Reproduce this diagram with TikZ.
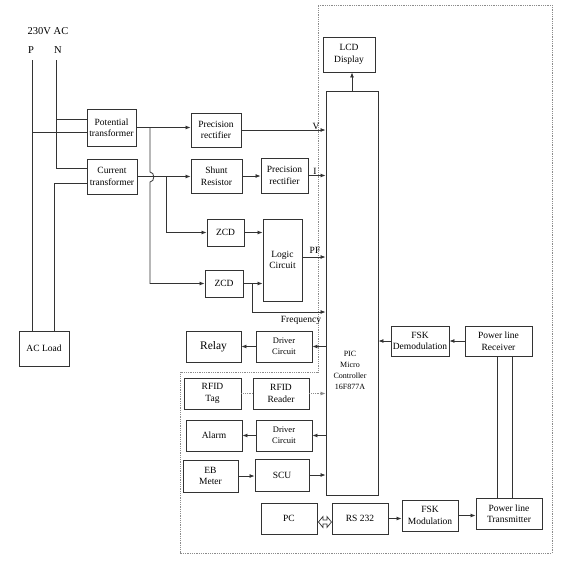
\documentclass[tikz,border=0pt]{standalone}
\usepackage{fontspec}
\setmainfont{Liberation Serif}
\usetikzlibrary{arrows.meta}
\begin{document}
\begin{tikzpicture}[x=1pt,y=-1pt,
  box/.style={draw=black!80, line width=0.9pt, align=center, inner sep=1pt,
    font=\fontsize{9.5}{11.5}\selectfont},
  smallbox/.style={box, font=\fontsize{8.5}{11}\selectfont},
  wire/.style={draw=black!80, line width=0.8pt},
  arr/.style={wire, -{Latex[length=5pt,width=4pt]}},
  dotwire/.style={draw=black!45, line width=0.8pt, densely dotted},
  border/.style={draw=black!45, line width=0.8pt, densely dotted},
  lbl/.style={font=\fontsize{9.5}{11.5}\selectfont, inner sep=0pt}]
\useasboundingbox (0,0) rectangle (580,562);

% boundary
\draw[border] (318,5) -- (552,5) -- (552,553) -- (180,553) -- (180,372) -- (318,372) -- cycle;

% supply labels
\node[lbl, font=\fontsize{10.5}{12}\selectfont] (ac) at (48,31) {230V AC};
\node[lbl, font=\fontsize{10.5}{12}\selectfont] (Plbl) at (31,50) {P};
\node[lbl, font=\fontsize{10.5}{12}\selectfont] (Nlbl) at (58,50) {N};
\coordinate (Ptop) at (32,60);
\coordinate (Ntop) at (56,60);

% boxes
\node[box, minimum width=49, minimum height=37] (PT) at (111.5,127.5) {Potential\\transformer};
\node[box, minimum width=50, minimum height=35] (CT) at (112,176.5) {Current\\transformer};
\node[box, minimum width=50, minimum height=35] (ACL) at (44,348.5) {AC Load};
\node[box, minimum width=50, minimum height=34] (PR1) at (216,130) {Precision\\rectifier};
\node[box, minimum width=51, minimum height=34] (SR) at (216.5,176) {Shunt\\Resistor};
\node[box, minimum width=47, minimum height=35] (PR2) at (284.5,175.5) {Precision\\rectifier};
\node[box, minimum width=37, minimum height=27] (ZCD1) at (225.5,232.5) {ZCD};
\node[box, minimum width=39, minimum height=82] (LC) at (282.5,260) {Logic\\Circuit};
\node[box, minimum width=38, minimum height=27] (ZCD2) at (224,283.5) {ZCD};
\node[box, minimum width=52, minimum height=404] (PIC) at (352,293) {};
\node[lbl, align=center, font=\fontsize{8}{11}\selectfont] (PICtxt) at (350,370) {PIC\\Micro\\Controller\\16F877A};
\node[box, minimum width=52, minimum height=35] (LCD) at (349,54.5) {LCD\\Display};
\node[box, minimum width=55, minimum height=31, font=\fontsize{11.5}{13}\selectfont] (Relay) at (213.5,346.5) {Relay};
\node[smallbox, minimum width=56, minimum height=31] (DC1) at (284,346.5) {Driver\\Circuit};
\node[box, minimum width=57, minimum height=31] (Tag) at (212.5,393.5) {RFID\\Tag};
\node[box, minimum width=56, minimum height=31] (Reader) at (281,393.5) {RFID\\Reader};
\node[box, minimum width=56, minimum height=31] (Alarm) at (214,435.5) {Alarm};
\node[smallbox, minimum width=56, minimum height=31] (DC2) at (284,435.5) {Driver\\Circuit};
\node[box, minimum width=55, minimum height=32] (EB) at (210.5,476) {EB\\Meter};
\node[box, minimum width=54, minimum height=32] (SCU) at (282,475) {SCU};
\node[box, minimum width=56, minimum height=31] (PC) at (289,518.5) {PC};
\node[box, minimum width=56, minimum height=31] (RS) at (360,518.5) {RS 232};
\node[box, minimum width=56, minimum height=31] (FSKM) at (430,515.5) {FSK\\Modulation};
\node[box, minimum width=66, minimum height=31] (PLT) at (509,513.5) {Power line\\Transmitter};
\node[box, minimum width=58, minimum height=30] (FSKD) at (420,341) {FSK\\Demodulation};
\node[box, minimum width=67, minimum height=30] (PLR) at (498.5,341) {Power line\\Receiver};

% supply wiring
\draw[wire] (Ptop) -- (Ptop |- ACL.north);
\draw[wire] (Ptop |- 0,132) -- (PT.west |- 0,132);
\draw[wire] (Ntop) -- (56,168) -- (CT.west |- 0,168);
\draw[wire] (Ntop |- 0,119) -- (PT.west |- 0,119);
\draw[wire] (CT.west |- 0,183) -| ([xshift=10]ACL.north);

% transformer outputs
\coordinate (brA) at (150,127.5);
\coordinate (brB) at (166,176.5);
\draw[arr] (PT.east) -- (PT.east -| PR1.west);
\draw[arr] (brA) -- (150,172) .. controls (155,172) and (155,182) .. (150,182) |- (ZCD2.west);
\draw[arr] (CT.east) -- (CT.east -| SR.west);
\draw[arr] (brB) |- (ZCD1.west);

% measurement chain
\draw[arr] (PR1.east) -- (PR1.east -| PIC.west);
\node[lbl] (Vl) at (316,126) {V};
\draw[arr] (SR.east) -- (SR.east -| PR2.west);
\draw[arr] (PR2.east) -- (PR2.east -| PIC.west);
\node[lbl] (Il) at (315,171) {I};
\draw[arr] (ZCD1.east) -- (ZCD1.east -| LC.west);
\draw[arr] (LC.east |- 0,257) -- (PIC.west |- 0,257);
\node[lbl] (PFl) at (315,250) {PF};
\draw[arr] (ZCD2.east) -- (ZCD2.east -| LC.west);
\coordinate (brC) at (252,283.5);
\draw[arr] (brC) |- (PIC.west |- 0,312);
\node[lbl] (Fl) at (301,320) {Frequency};

% outputs from PIC
\draw[arr] (PIC.west |- DC1.east) -- (DC1.east);
\draw[arr] (DC1.west) -- (Relay.east);
\draw[dotwire] (Tag.east) -- (Reader.west);
\draw[dotwire, -{Latex[length=5pt,width=4pt]}] (Reader.east) -- (Reader.east -| PIC.west);
\draw[arr] (PIC.west |- DC2.east) -- (DC2.east);
\draw[arr] (DC2.west) -- (Alarm.east);
\draw[arr] (EB.east) -- (EB.east -| SCU.west);
\draw[arr] (SCU.east) -- (SCU.east -| PIC.west);
\draw[arr] (PIC.north) -- (PIC.north |- LCD.south);

% communication: hollow double arrow between PC and RS 232
\draw[draw=black!80, line width=0.7pt, fill=white, line join=miter, shift={(PC.east)}]
  (1,3.5) -- (5.5,-2) -- (5.5,1.5) -- (9.5,1.5) -- (9.5,-2) -- (14,3.5)
  -- (9.5,9) -- (9.5,5.5) -- (5.5,5.5) -- (5.5,9) -- cycle;
\draw[arr] (RS.east) -- (RS.east -| FSKM.west);
\draw[arr] (FSKM.east) -- (FSKM.east -| PLT.west);
\draw[arr] (PLR.west) -- (PLR.west -| FSKD.east);
\draw[arr] (FSKD.west) -- (FSKD.west -| PIC.east);
\draw[wire] (PLR.south -| 497,0) -- (PLT.north -| 497,0);
\draw[wire] (PLR.south -| 512,0) -- (PLT.north -| 512,0);
\end{tikzpicture}
\end{document}
